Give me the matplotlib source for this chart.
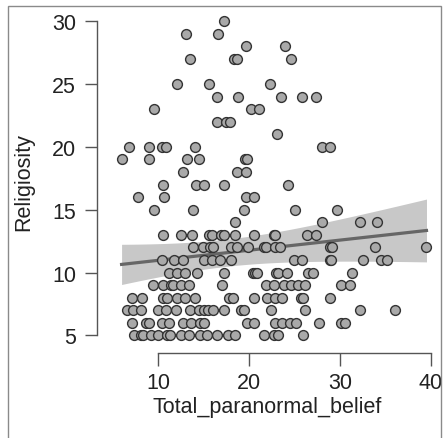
import numpy as np
import matplotlib
matplotlib.use("Agg")
import matplotlib.pyplot as plt
from matplotlib.patches import Rectangle

plt.rcParams['font.family'] = ['Liberation Sans', 'DejaVu Sans']

# points, grouped by religiosity score
rows = {
    30: [17.3],
    29: [13.1, 16.6],
    28: [19.7, 24.0],
    27: [13.5, 18.4, 18.7, 24.6],
    25: [12.1, 15.6, 22.3],
    24: [16.5, 18.8, 23.5, 25.8, 27.4],
    23: [9.6, 20.2, 21.1],
    22: [16.5, 17.5, 17.9],
    21: [23.1],
    20: [6.85, 9.05, 10.4, 10.9, 14.1, 28.0, 28.9],
    19: [6.05, 9.05, 13.2, 14.5, 19.6, 19.8],
    18: [12.7, 18.7, 19.7],
    17: [10.5, 14.2, 15.1, 17.2, 24.3],
    16: [7.85, 10.7, 19.7, 20.5],
    15: [9.6, 13.9, 19.4, 25.1, 29.7],
    14: [18.5, 28.0, 32.2, 34.1],
    13: [10.5, 12.5, 13.7, 15.6, 15.9, 16.9, 17.3, 18.5, 20.5, 22.8, 22.9, 26.4, 27.4],
    12: [13.8, 15.0, 15.7, 16.0, 18.0, 18.7, 19.9, 21.6, 21.9, 22.9, 23.4, 28.9, 29.1, 33.8, 39.5],
    11: [10.4, 11.8, 12.8, 15.1, 15.9, 16.8, 18.0, 24.9, 25.8, 28.9, 29.0, 32.5, 34.5, 35.2],
    10: [11.2, 12.1, 13.0, 14.3, 17.2, 20.4, 20.7, 20.9, 23.0, 23.2, 24.2, 26.5, 27.0, 31.3],
    9: [9.5, 10.6, 11.4, 11.6, 12.5, 13.4, 17.0, 21.9, 22.8, 23.8, 24.6, 25.4, 26.2, 30.1, 31.1],
    8: [7.1, 8.2, 10.6, 11.0, 12.1, 13.0, 14.1, 17.8, 18.2, 20.6, 22.0, 22.9, 23.6, 25.7, 25.9, 28.9],
    7: [6.6, 7.3, 8.1, 10.0, 10.9, 12.0, 13.5, 14.5, 15.1, 15.5, 16.0, 17.3, 19.1, 19.5, 22.4, 26.2, 32.2, 36.0],
    6: [7.1, 8.7, 9.05, 10.4, 11.2, 12.8, 13.6, 14.6, 15.1, 19.8, 20.5, 22.9, 23.6, 24.5, 25.2, 27.7, 30.1, 30.5],
    5: [7.4, 8.1, 8.4, 9.2, 10.0, 11.0, 11.35, 12.5, 13.4, 14.6, 15.4, 16.5, 17.7, 18.5, 21.7, 22.8, 23.2, 25.9],
}
paranormal = np.array([x for y, xs in rows.items() for x in xs])
religiosity = np.array([y for y, xs in rows.items() for x in xs], dtype=float)

# regression line and 95% band
fit_x = [6.0, 39.5]
fit_y = [10.65, 13.35]
band_halfwidth = [1.6, 2.5]   # at the two ends of the line
band_center = 17.5            # x where the band is narrowest

slope = (fit_y[1] - fit_y[0]) / (fit_x[1] - fit_x[0])
xs = np.linspace(fit_x[0], fit_x[1], 200)
fit = fit_y[0] + slope * (xs - fit_x[0])
d0 = (fit_x[0] - band_center) ** 2
d1 = (fit_x[1] - band_center) ** 2
b = (band_halfwidth[1] ** 2 - band_halfwidth[0] ** 2) / (d1 - d0)
a = band_halfwidth[0] ** 2 - b * d0
hw = np.sqrt(a + b * (xs - band_center) ** 2)

fig = plt.figure(figsize=(4.43, 4.39), dpi=100)
ax = fig.add_axes([97 / 443, 85 / 439, 339.5 / 443, 344.3 / 439])

ax.fill_between(xs, fit - hw, fit + hw, color='#c8c8c8', lw=0, zorder=1)
ax.plot(xs, fit, color='#666666', lw=2.3, zorder=2)
ax.scatter(paranormal, religiosity, s=50, facecolor='#a9a9a9',
           edgecolor='#333333', linewidth=1.0, zorder=3)

ax.set_xlim(3.3, 40.6)
ax.set_ylim(3.6, 31)
ax.set_xticks([10, 20, 30, 40])
ax.set_yticks([5, 10, 15, 20, 25, 30])
for side in ['top', 'right']:
    ax.spines[side].set_visible(False)
ax.spines['left'].set_bounds(5, 30)
ax.spines['bottom'].set_bounds(10, 40)
for side in ['left', 'bottom']:
    ax.spines[side].set_color('#555555')
    ax.spines[side].set_linewidth(1.0)
ax.tick_params(axis='both', labelsize=15.5, length=9, width=1.0,
               color='#555555', labelcolor='#222222')
ax.tick_params(axis='x', pad=5)
ax.tick_params(axis='y', pad=6)
ax.set_xlabel('Total_paranormal_belief', fontsize=15.5, color='#222222', labelpad=2)
ax.set_ylabel('Religiosity', fontsize=15.5, color='#222222', labelpad=13)

fig.patches.append(Rectangle((8 / 443, -0.1), 433 / 443, 1.1 - 7 / 439,
                             transform=fig.transFigure, fill=False,
                             edgecolor='#8a8a8a', lw=1.0))

fig.savefig('out.png', dpi=100)
